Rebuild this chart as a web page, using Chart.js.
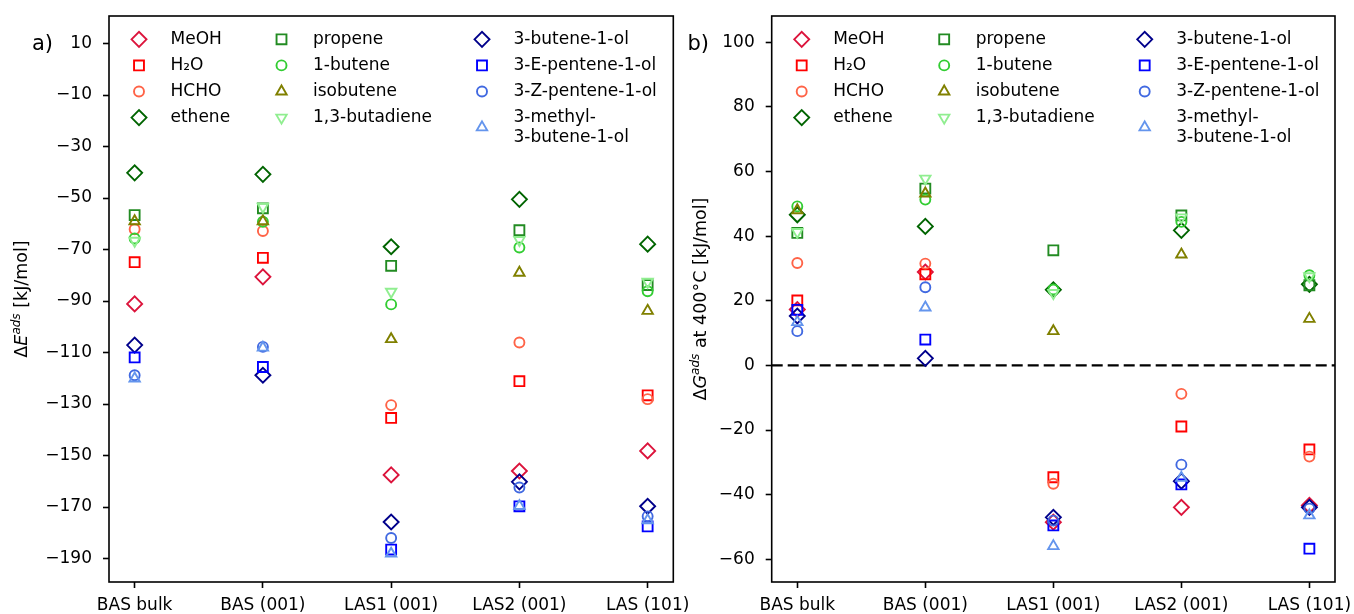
<!DOCTYPE html>
<html>
<head>
<meta charset="utf-8">
<script src="https://cdn.jsdelivr.net/npm/chart.js@4"></script>
<style>
  html, body { margin: 0; padding: 0; background: #fff; }
  #wrap { position: relative; width: 1354px; height: 614px; }
  canvas { position: absolute; left: 0; top: 0; }
</style>
</head>
<body>
<div id="wrap">
  <canvas id="chartA" width="1354" height="614"></canvas>
  <canvas id="chartB" width="1354" height="614"></canvas>
</div>
<script>
// sites on the x axis
var categories = ["BAS bulk", "BAS (001)", "LAS1 (001)", "LAS2 (001)", "LAS (101)"];

var names = ["MeOH", "H\u2082O", "HCHO", "ethene",
             "propene", "1-butene", "isobutene", "1,3-butadiene",
             "3-butene-1-ol", "3-E-pentene-1-ol", "3-Z-pentene-1-ol", "3-methyl-\n3-butene-1-ol"];

// a) adsorption energies dE [kJ/mol]
var meohE      = [-91.1, -80.6, -157.5, -156.0, -148.2];
var waterE     = [-74.9, -73.2, -135.4, -121.1, -126.6];
var hchoE      = [-62.1, -62.8, -130.4, -106.1, -128.1];
var etheneE    = [-40.2, -40.8, -68.9, -50.5, -67.9];
var propeneE   = [-56.6, -54.0, -76.3, -62.5, -83.8];
var butene1E   = [-65.7, -59.2, -91.3, -69.2, -86.2];
var isobuteneE = [-59.0, -59.0, -104.8, -79.0, -93.8];
var butadieneE = [-66.6, -53.4, -86.4, -66.3, -82.5];
var butenolE   = [-107.1, -118.8, -175.8, -160.2, -169.7];
var ePentenolE = [-111.9, -115.6, -186.5, -169.7, -177.5];
var zPentenolE = [-118.8, -107.8, -182.0, -162.4, -173.6];
var mButenolE  = [-120.1, -108.1, -188.1, -169.6, -175.1];

// b) adsorption free energies dG at 400 C [kJ/mol]
var meohG      = [17.3, 28.9, -48.5, -43.9, -43.3];
var waterG     = [20.1, 28.2, -34.6, -18.9, -26.0];
var hchoG      = [31.7, 31.5, -36.6, -8.8, -28.2];
var etheneG    = [46.6, 43.0, 23.4, 41.8, 25.1];
var propeneG   = [41.0, 54.7, 35.6, 46.4, 24.8];
var butene1G   = [49.2, 51.3, 23.5, 44.4, 27.9];
var isobuteneG = [48.0, 53.2, 10.6, 34.3, 14.4];
var butadieneG = [41.3, 57.8, 22.4, 45.8, 27.6];
var butenolG   = [15.3, 2.2, -47.0, -35.8, -43.9];
var ePentenolG = [17.2, 8.0, -49.5, -36.8, -56.7];
var zPentenolG = [10.6, 24.2, -48.0, -30.7, -44.3];
var mButenolG  = [13.4, 17.9, -55.9, -34.8, -46.4];

var ticksE = [10, -10, -30, -50, -70, -90, -110, -130, -150, -170, -190];
var ticksG = [100, 80, 60, 40, 20, 0, -20, -40, -60];

// marker styles
var colors = ["#DC143C", "#FF0000", "#FF6347", "#006400",
              "#228B22", "#32CD32", "#808000", "#90EE90",
              "#00008B", "#0000FF", "#4169E1", "#6495ED"];
var markers = ["rectRot", "rect", "circle", "rectRot",
               "rect", "circle", "triangle", "triangle",
               "rectRot", "rect", "circle", "triangle"];
var rotations = [0, 0, 0, 0, 0, 0, 0, 180, 0, 0, 0, 0];
var radii = { rectRot: 7.5, rect: 7, circle: 5, triangle: 6 };

Chart.defaults.font.family = "'DejaVu Sans', sans-serif";
Chart.defaults.font.size = 17;
Chart.defaults.color = "#000";

function toMinus(v) {
  return String(v).replace("-", "\u2212");
}

function buildDatasets(series) {
  return series.map(function (vals, i) {
    return {
      label: names[i],
      data: vals.map(function (v, j) { return { x: j, y: v }; }),
      showLine: false,
      pointStyle: markers[i],
      pointRotation: rotations[i],
      pointRadius: radii[markers[i]],
      pointHoverRadius: radii[markers[i]],
      pointBorderColor: colors[i],
      pointBackgroundColor: "rgba(0,0,0,0)",
      pointBorderWidth: 1.9,
      order: series.length - i
    };
  });
}

// frame, panel letter, y title, zero line and legend
var panelDecor = {
  id: "panelDecor",
  beforeDatasetsDraw: function (chart, args, opts) {
    if (!opts.zeroLine) return;
    var ctx = chart.ctx, a = chart.chartArea;
    var y = chart.scales.y.getPixelForValue(0);
    ctx.save();
    ctx.strokeStyle = "#000";
    ctx.lineWidth = 2.2;
    ctx.setLineDash([11, 5]);
    ctx.beginPath();
    ctx.moveTo(a.left, y);
    ctx.lineTo(a.right, y);
    ctx.stroke();
    ctx.restore();
  },
  afterDraw: function (chart, args, opts) {
    var ctx = chart.ctx, a = chart.chartArea;
    ctx.save();
    ctx.strokeStyle = "#000";
    ctx.lineWidth = 1.6;
    ctx.strokeRect(a.left, a.top, a.right - a.left, a.bottom - a.top);

    // panel letter
    ctx.fillStyle = "#000";
    ctx.font = "21px 'DejaVu Sans'";
    ctx.textAlign = "right";
    ctx.textBaseline = "middle";
    ctx.fillText(opts.letter, opts.letterX, 45);

    // y axis title, rotated
    var base = "17.5px 'DejaVu Sans'";
    var ital = "italic 17.5px 'DejaVu Sans'";
    var sup = "italic 12px 'DejaVu Sans'";
    var parts = [["\u0394", base, 0], [opts.sym, ital, 0], ["ads", sup, -7], [opts.rest, base, 0]];
    var total = 0;
    parts.forEach(function (p) { ctx.font = p[1]; total += ctx.measureText(p[0]).width; });
    ctx.translate(opts.titleX, (a.top + a.bottom) / 2);
    ctx.rotate(-Math.PI / 2);
    ctx.textAlign = "left";
    ctx.textBaseline = "alphabetic";
    var x = -total / 2;
    parts.forEach(function (p) {
      ctx.font = p[1];
      ctx.fillText(p[0], x, 6 + p[2]);
      x += ctx.measureText(p[0]).width;
    });
    ctx.restore();

    // legend in three columns
    var colMarker = [30, 172.5, 373];
    var rowGap = 26.1, lineH = 19.5;
    ctx.save();
    ctx.font = "17px 'DejaVu Sans'";
    ctx.textAlign = "left";
    ctx.textBaseline = "middle";
    chart.data.datasets.forEach(function (ds, i) {
      var col = Math.floor(i / 4), row = i % 4;
      var lines = ds.label.split("\n");
      var cy = a.top + 23.3 + row * rowGap + (lines.length - 1) * lineH / 2;
      var mx = a.left + colMarker[col];
      ctx.strokeStyle = ds.pointBorderColor;
      ctx.fillStyle = "rgba(0,0,0,0)";
      ctx.lineWidth = ds.pointBorderWidth;
      Chart.helpers.drawPoint(ctx, {
        pointStyle: ds.pointStyle,
        rotation: ds.pointRotation,
        radius: ds.pointRadius,
        borderWidth: ds.pointBorderWidth
      }, mx, cy);
      ctx.fillStyle = "#000";
      lines.forEach(function (t, k) {
        ctx.fillText(t, mx + 31.5, cy + (k - (lines.length - 1) / 2) * lineH);
      });
    });
    ctx.restore();
  }
};

function noEdgePadding(s) {
  s.paddingTop = 0;
  s.paddingBottom = 0;
  s.paddingLeft = 0;
  s.paddingRight = 0;
}

function makeOptions(pad, yMin, yMax, yTicks, decor) {
  return {
    responsive: false,
    animation: false,
    layout: { padding: pad },
    plugins: {
      legend: { display: false },
      tooltip: { enabled: false },
      panelDecor: decor
    },
    scales: {
      x: {
        type: "linear",
        min: -0.2,
        max: 4.2,
        afterBuildTicks: function (s) {
          s.ticks = categories.map(function (c, i) { return { value: i }; });
        },
        afterFit: function (s) { s.height = 32; noEdgePadding(s); },
        ticks: {
          autoSkip: false,
          maxRotation: 0,
          minRotation: 0,
          padding: 7,
          callback: function (v) { return categories[v]; }
        },
        grid: { drawOnChartArea: false, drawTicks: true, tickLength: 6, tickWidth: 1.6, tickColor: "#000" },
        border: { display: false }
      },
      y: {
        type: "linear",
        min: yMin,
        max: yMax,
        afterBuildTicks: function (s) {
          s.ticks = yTicks.map(function (v) { return { value: v }; });
        },
        afterFit: function (s) { s.width = 109; noEdgePadding(s); },
        ticks: {
          padding: 11,
          callback: function (v) { return toMinus(v); }
        },
        grid: { drawOnChartArea: false, drawTicks: true, tickLength: 6, tickWidth: 1.6, tickColor: "#000" },
        border: { display: false }
      }
    }
  };
}

var ctxA = document.getElementById("chartA").getContext("2d");
var chartA = new Chart(ctxA, {
  type: "scatter",
  data: {
    datasets: buildDatasets([meohE, waterE, hchoE, etheneE, propeneE, butene1E,
                             isobuteneE, butadieneE, butenolE, ePentenolE, zPentenolE, mButenolE])
  },
  options: makeOptions({ left: 0, top: 16, right: 680.7, bottom: 0 }, -199.1, 20.7, ticksE,
    { letter: "a)", letterX: 53, sym: "E", rest: " [kJ/mol]", titleX: 21, zeroLine: false }),
  plugins: [panelDecor]
});

var ctxB = document.getElementById("chartB").getContext("2d");
var chartB = new Chart(ctxB, {
  type: "scatter",
  data: {
    datasets: buildDatasets([meohG, waterG, hchoG, etheneG, propeneG, butene1G,
                             isobuteneG, butadieneG, butenolG, ePentenolG, zPentenolG, mButenolG])
  },
  options: makeOptions({ left: 662.7, top: 16, right: 19, bottom: 0 }, -67.0, 108.1, ticksG,
    { letter: "b)", letterX: 709, sym: "G", rest: " at 400\u00B0C [kJ/mol]", titleX: 700, zeroLine: true }),
  plugins: [panelDecor]
});
</script>
</body>
</html>
